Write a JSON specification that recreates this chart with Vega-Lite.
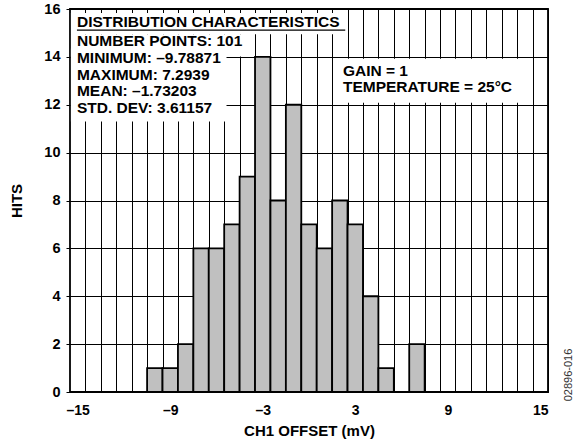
{
  "$schema": "https://vega.github.io/schema/vega-lite/v6.json",
  "width": 478,
  "height": 383,
  "autosize": {"type": "none"},
  "padding": {"left": 70, "top": 9, "right": 26, "bottom": 52},
  "background": "white",
  "config": {
    "font": "Liberation Sans",
    "view": {"stroke": "black", "strokeWidth": 1.8},
    "axis": {
      "labelFont": "Liberation Sans",
      "labelFontWeight": "bold",
      "labelColor": "black",
      "titleFont": "Liberation Sans",
      "titleFontWeight": "bold",
      "titleColor": "black",
      "gridColor": "black",
      "gridOpacity": 1,
      "gridWidth": 1,
      "domain": false
    },
    "axisX": {
      "grid": true,
      "ticks": false,
      "tickSize": 0,
      "labelOverlap": false,
      "labelFlush": false,
      "labelBound": false
    },
    "axisY": {
      "grid": true
    }
  },
  "datasets": {
    "hist": [
      {"x": -10.5, "x2": -9.5, "y": 1},
      {"x": -9.5, "x2": -8.5, "y": 1},
      {"x": -8.5, "x2": -7.5, "y": 2},
      {"x": -7.5, "x2": -6.5, "y": 6},
      {"x": -6.5, "x2": -5.5, "y": 6},
      {"x": -5.5, "x2": -4.5, "y": 7},
      {"x": -4.5, "x2": -3.5, "y": 9},
      {"x": -3.5, "x2": -2.5, "y": 14},
      {"x": -2.5, "x2": -1.5, "y": 8},
      {"x": -1.5, "x2": -0.5, "y": 12},
      {"x": -0.5, "x2": 0.5, "y": 7},
      {"x": 0.5, "x2": 1.5, "y": 6},
      {"x": 1.5, "x2": 2.5, "y": 8},
      {"x": 2.5, "x2": 3.5, "y": 7},
      {"x": 3.5, "x2": 4.5, "y": 4},
      {"x": 4.5, "x2": 5.5, "y": 1},
      {"x": 6.5, "x2": 7.5, "y": 2}
    ],
    "boxes": [
      {"x": -15.44, "x2": 2.4, "y": 14.95, "y2": 15.83},
      {"x": -15.44, "x2": -4.0, "y": 14.02, "y2": 14.95},
      {"x": -15.44, "x2": -5.35, "y": 11.3, "y2": 14.35},
      {"x": 1.6, "x2": 14.4, "y": 12.08, "y2": 13.92}
    ],
    "underline": [
      {"x": -15.05, "x2": 2.35, "y": 15.12}
    ],
    "notes": [
      {"label": "DISTRIBUTION CHARACTERISTICS", "x": -15.05, "y": 15.46},
      {"label": "NUMBER POINTS: 101", "x": -15.05, "y": 14.66},
      {"label": "MINIMUM: –9.78871", "x": -15.05, "y": 13.96},
      {"label": "MAXIMUM: 7.2939", "x": -15.05, "y": 13.26},
      {"label": "MEAN: –1.73203", "x": -15.05, "y": 12.56},
      {"label": "STD. DEV: 3.61157", "x": -15.05, "y": 11.86},
      {"label": "GAIN = 1", "x": 2.2, "y": 13.4},
      {"label": "TEMPERATURE = 25°C", "x": 2.2, "y": 12.73}
    ],
    "code": [
      {"label": "02896-016", "x": 16.86, "y": 0.71}
    ]
  },
  "encoding": {
    "x": {
      "field": "x",
      "type": "quantitative",
      "scale": {"domain": [-15.5, 15.5], "nice": false, "zero": false},
      "title": "CH1 OFFSET (mV)",
      "axis": {
        "values": [-14.5, -13.5, -12.5, -11.5, -10.5, -9.5, -8.5, -7.5, -6.5, -5.5, -4.5, -3.5, -2.5, -1.5, -0.5, 0.5, 1.5, 2.5, 3.5, 4.5, 5.5, 6.5, 7.5, 8.5, 9.5, 10.5, 11.5, 12.5, 13.5, 14.5, 15.5],
        "grid": true,
        "ticks": false,
        "labelOverlap": false,
        "labelExpr": "indexof([-14.5, -8.5, -2.5, 3.5, 9.5, 15.5], datum.value) >= 0 ? (datum.value < 0 ? '–' + (0.5 - datum.value) : '' + (datum.value - 0.5)) : ''",
        "labelOffset": -7.71,
        "labelFontSize": 14,
        "labelPadding": 11,
        "titleFontSize": 15,
        "titleY": 38.5,
        "titleBaseline": "middle"
      }
    },
    "y": {
      "field": "y",
      "type": "quantitative",
      "scale": {"domain": [0, 16], "nice": false, "padding": 0},
      "title": "HITS",
      "axis": {
        "values": [0, 2, 4, 6, 8, 10, 12, 14, 16],
        "grid": true,
        "tickSize": 4,
        "tickColor": "black",
        "tickWidth": 1,
        "labelPadding": 6,
        "labelFontSize": 14.5,
        "titleFontSize": 15,
        "titleX": -54,
        "titleY": 191.5,
        "titleAngle": 270,
        "titleBaseline": "middle",
        "titleAlign": "center"
      }
    }
  },
  "layer": [
    {
      "data": {"name": "hist"},
      "mark": {"type": "rect", "fill": "#c0c0c0", "stroke": "black", "strokeWidth": 1.8},
      "encoding": {
        "x2": {"field": "x2"},
        "y2": {"datum": 0}
      }
    },
    {
      "data": {"name": "boxes"},
      "mark": {"type": "rect", "fill": "white", "strokeWidth": 0},
      "encoding": {
        "x2": {"field": "x2"},
        "y2": {"field": "y2"}
      }
    },
    {
      "data": {"name": "underline"},
      "mark": {"type": "rule", "color": "black", "strokeWidth": 1.3},
      "encoding": {
        "x2": {"field": "x2"}
      }
    },
    {
      "data": {"name": "notes"},
      "mark": {"type": "text", "align": "left", "baseline": "middle", "font": "Liberation Sans", "fontWeight": "bold", "fontSize": 15.5, "color": "black"},
      "encoding": {
        "text": {"field": "label"}
      }
    },
    {
      "data": {"name": "code"},
      "mark": {"type": "text", "align": "center", "baseline": "middle", "angle": 270, "font": "Liberation Sans", "fontSize": 11, "color": "#333333"},
      "encoding": {
        "text": {"field": "label"}
      }
    }
  ]
}
